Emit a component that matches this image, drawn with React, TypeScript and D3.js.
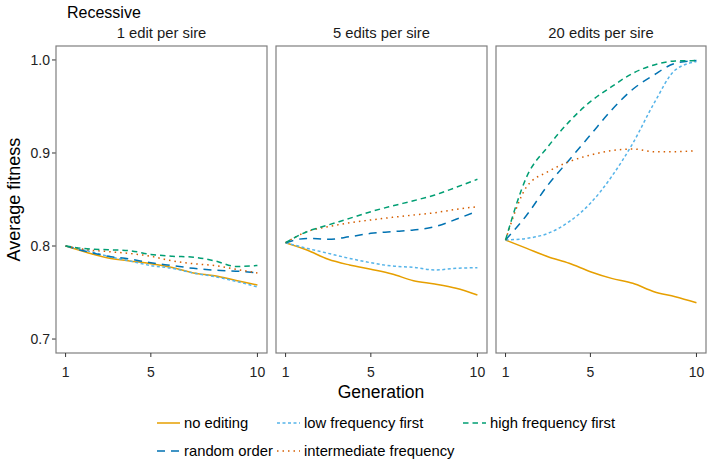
import * as d3 from 'd3';

const generations = [1, 2, 3, 4, 5, 6, 7, 8, 9, 10];
const panels = ['1 edit per sire', '5 edits per sire', '20 edits per sire'];
const xTicks = [1, 5, 10];
const yTicks = [0.7, 0.8, 0.9, 1.0];

// one array per strategy, per panel (1, 5, 20 edits)
const noEditing = [
  [0.8, 0.793, 0.787, 0.784, 0.781, 0.777, 0.771, 0.768, 0.763, 0.758],
  [0.8036, 0.7957, 0.7857, 0.7796, 0.775, 0.7699, 0.7627, 0.7591, 0.7545, 0.7473],
  [0.8065, 0.7975, 0.7885, 0.7814, 0.7724, 0.7652, 0.7599, 0.7509, 0.7455, 0.739],
];
const lowFirst = [
  [0.8, 0.795, 0.789, 0.784, 0.779, 0.776, 0.771, 0.767, 0.762, 0.756],
  [0.8036, 0.7975, 0.7921, 0.7867, 0.782, 0.7785, 0.7771, 0.7742, 0.776, 0.7767],
  [0.8065, 0.8082, 0.8136, 0.8262, 0.8459, 0.8746, 0.9104, 0.9534, 0.9892, 0.9982],
];
const highFirst = [
  [0.8, 0.797, 0.796, 0.795, 0.791, 0.789, 0.788, 0.784, 0.778, 0.779],
  [0.8036, 0.8154, 0.8226, 0.8297, 0.8369, 0.843, 0.8487, 0.8548, 0.8631, 0.8717],
  [0.8065, 0.8746, 0.9068, 0.9337, 0.9552, 0.9713, 0.9857, 0.9946, 0.9989, 0.9993],
];
const randomOrder = [
  [0.8, 0.794, 0.789, 0.786, 0.782, 0.779, 0.776, 0.774, 0.773, 0.771],
  [0.8036, 0.8082, 0.8072, 0.81, 0.8136, 0.8154, 0.8172, 0.8208, 0.8287, 0.8376],
  [0.8065, 0.8333, 0.8656, 0.8925, 0.9194, 0.9462, 0.9685, 0.9839, 0.9964, 0.9993],
];
const intermediate = [
  [0.8, 0.796, 0.794, 0.792, 0.789, 0.784, 0.781, 0.779, 0.775, 0.771],
  [0.8036, 0.8154, 0.8208, 0.825, 0.828, 0.8308, 0.8333, 0.8358, 0.8394, 0.8423],
  [0.8065, 0.8638, 0.8799, 0.8907, 0.8978, 0.9025, 0.9043, 0.9014, 0.9014, 0.9025],
];

const series = [
  { name: 'no editing', values: noEditing, color: '#E69F00', dash: '' },
  { name: 'low frequency first', values: lowFirst, color: '#56B4E9', dash: '3,2.5' },
  { name: 'high frequency first', values: highFirst, color: '#009E73', dash: '5.5,4' },
  { name: 'random order', values: randomOrder, color: '#0072B2', dash: '8,6' },
  { name: 'intermediate frequency', values: intermediate, color: '#D55E00', dash: '1.5,4' },
];

// legend layout (ggplot byrow, 3 columns)
const legendOrder = [
  ['no editing', 'low frequency first', 'high frequency first'],
  ['random order', 'intermediate frequency'],
];

const font = '"Liberation Sans", Arial, Helvetica, sans-serif';

export default function App() {
  const width = 708;
  const height = 464;
  const top = 46;
  const bottom = 353;
  const panelX = [56, 276, 496];
  const panelW = [211, 211, 210];

  const y = d3.scaleLinear().domain([0.685, 1.015]).range([bottom, top]);
  const legendCols = [157, 277, 463];
  const legendRows = [423, 451];

  return (
    <svg width={width} height={height} style={{ position: 'absolute', left: 0, top: 0, fontFamily: font }}>
      <rect width={width} height={height} fill="#fff" />
      <text x={67} y={18} fontSize={16} fill="#000">Recessive</text>
      <text
        transform={`translate(${20},${(top + bottom) / 2}) rotate(-90)`}
        textAnchor="middle"
        fontSize={18}
        fill="#000"
      >
        Average fitness
      </text>
      {yTicks.map((t) => (
        <g key={t}>
          <line x1={panelX[0] - 4} x2={panelX[0]} y1={y(t)} y2={y(t)} stroke="#333" />
          <text x={panelX[0] - 6} y={y(t)} dy="0.35em" textAnchor="end" fontSize={14} fill="#222">
            {t.toFixed(1)}
          </text>
        </g>
      ))}
      {panels.map((title, pi) => {
        const x = d3
          .scaleLinear()
          .domain([0.55, 10.45])
          .range([panelX[pi], panelX[pi] + panelW[pi]]);
        const line = d3
          .line<number>()
          .x((_, i) => x(generations[i]))
          .y((v) => y(v))
          .curve(d3.curveMonotoneX);
        const order = [0, 1, 3, 4, 2];
        return (
          <g key={title}>
            <text
              x={panelX[pi] + panelW[pi] / 2}
              y={38}
              textAnchor="middle"
              fontSize={14.8}
              fill="#1a1a1a"
            >
              {title}
            </text>
            {order.map((si) => {
              const s = series[si];
              return (
                <path
                  key={s.name}
                  d={line(s.values[pi]) || ''}
                  fill="none"
                  stroke={s.color}
                  strokeWidth={1.5}
                  strokeDasharray={s.dash}
                />
              );
            })}
            <rect
              x={panelX[pi]}
              y={top}
              width={panelW[pi]}
              height={bottom - top}
              fill="none"
              stroke="#7f7f7f"
              strokeWidth={1.2}
            />
            {xTicks.map((t) => (
              <g key={t}>
                <line x1={x(t)} x2={x(t)} y1={bottom} y2={bottom + 4} stroke="#333" />
                <text x={x(t)} y={372} dy="0.35em" textAnchor="middle" fontSize={14} fill="#222">
                  {t}
                </text>
              </g>
            ))}
          </g>
        );
      })}
      <text x={(panelX[0] + panelX[2] + panelW[2]) / 2} y={398} textAnchor="middle" fontSize={17.5} fill="#000">
        Generation
      </text>
      {legendOrder.map((row, ri) =>
        row.map((name, ci) => {
          const s = series.find((d) => d.name === name)!;
          const lx = legendCols[ci];
          const ly = legendRows[ri];
          return (
            <g key={name}>
              <line
                x1={lx}
                x2={lx + 23}
                y1={ly}
                y2={ly}
                stroke={s.color}
                strokeWidth={1.5}
                strokeDasharray={s.dash}
              />
              <text x={lx + 27} y={ly} dy="0.35em" fontSize={14.8} fill="#000">
                {name}
              </text>
            </g>
          );
        })
      )}
    </svg>
  );
}
